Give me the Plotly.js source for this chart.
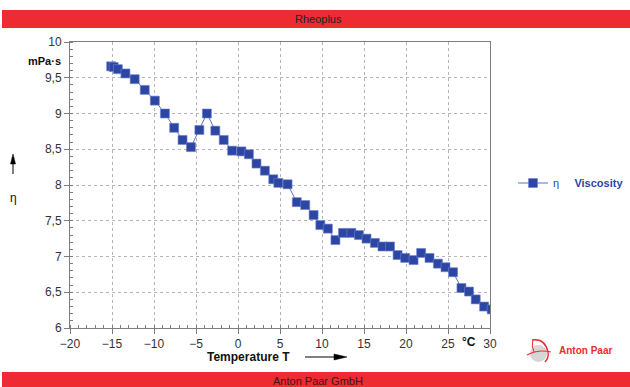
<!DOCTYPE html>
<html>
<head>
<meta charset="utf-8">
<script src="https://cdn.plot.ly/plotly-3.0.1.min.js"></script>
<style>
  html, body { margin: 0; padding: 0; background: #fff; }
  #chart { width: 630px; height: 387px; }
</style>
</head>
<body>
<div id="chart"></div>
<script>
// Temperature sweep (°C) and measured dynamic viscosity (mPa·s)
const temperature = [-15.1, -14.8, -14.3, -13.4, -12.3, -11.1, -9.9, -8.7, -7.6, -6.6,
  -5.6, -4.6, -3.7, -2.7, -1.7, -0.7, 0.4, 1.3, 2.2, 3.2,
  4.2, 4.8, 5.9, 7.0, 8.0, 9.0, 9.8, 10.7, 11.6, 12.5,
  13.5, 14.4, 15.3, 16.3, 17.2, 18.1, 19.0, 19.9, 20.9, 21.8,
  22.8, 23.8, 24.7, 25.6, 26.6, 27.5, 28.3, 29.3, 30.2];
const viscosity = [9.66, 9.65, 9.62, 9.56, 9.48, 9.33, 9.18, 9.00, 8.80, 8.63,
  8.53, 8.77, 9.00, 8.76, 8.63, 8.48, 8.47, 8.43, 8.30, 8.20,
  8.08, 8.03, 8.01, 7.76, 7.72, 7.58, 7.44, 7.39, 7.23, 7.33,
  7.33, 7.30, 7.25, 7.19, 7.14, 7.14, 7.02, 6.98, 6.95, 7.05,
  6.98, 6.90, 6.85, 6.78, 6.56, 6.51, 6.40, 6.30, 6.26];

const xTicks = [-20, -15, -10, -5, 0, 5, 10, 15, 20, 25, 30];
const yTicks = [6, 6.5, 7, 7.5, 8, 8.5, 9, 9.5, 10];

const seriesName = 'η\u00a0\u00a0\u00a0\u00a0\u00a0<b>Viscosity</b>';
const chartTitle = 'Rheoplus';
const footerText = 'Anton Paar GmbH';
const brandText = 'Anton Paar';

// plot area in pixels: left 70, right 490, top 42, bottom 328
const L = 70, R = 490, T = 42, B = 328;
const px = v => (v - L) / (R - L);
const py = v => (B - v) / (B - T);

const RED = '#ee2b31';
const BLUE = '#2d46a4';
const FONT = 'Liberation Sans, Arial, sans-serif';

const trace = {
  x: temperature,
  y: viscosity,
  type: 'scatter',
  mode: 'lines+markers',
  name: seriesName,
  line: { color: '#5c72c2', width: 1 },
  marker: { symbol: 'square', size: 9, color: BLUE, line: { color: '#6f83cc', width: 0.6 } },
  hoverinfo: 'skip'
};

const shapes = [
  // header and footer bands
  { type: 'rect', xref: 'paper', yref: 'paper', x0: px(2), x1: px(632), y0: py(28), y1: py(10),
    fillcolor: RED, line: { width: 0 }, layer: 'below' },
  { type: 'rect', xref: 'paper', yref: 'paper', x0: px(2), x1: px(632), y0: py(392), y1: py(372),
    fillcolor: RED, line: { width: 0 }, layer: 'below' },
  // y-axis arrow
  { type: 'line', xref: 'paper', yref: 'paper', x0: px(13), x1: px(13), y0: py(174), y1: py(162),
    line: { color: '#000', width: 1 } },
  { type: 'path', xref: 'paper', yref: 'paper',
    path: `M ${px(10.5)} ${py(164)} L ${px(13)} ${py(154)} L ${px(15.5)} ${py(164)} Z`,
    fillcolor: '#000', line: { color: '#000', width: 0.5 } },
  // x-axis arrow
  { type: 'line', xref: 'paper', yref: 'paper', x0: px(305), x1: px(336), y0: py(357), y1: py(357),
    line: { color: '#000', width: 1 } },
  { type: 'path', xref: 'paper', yref: 'paper',
    path: `M ${px(334)} ${py(354)} L ${px(347)} ${py(357)} L ${px(334)} ${py(360)} Z`,
    fillcolor: '#000', line: { color: '#000', width: 0.5 } },
  // brand mark: grey sphere with red orbit strokes
  { type: 'circle', xref: 'paper', yref: 'paper', x0: px(530), x1: px(547), y0: py(362), y1: py(345),
    fillcolor: '#d6d6d6', line: { width: 0 } },
  { type: 'path', xref: 'paper', yref: 'paper',
    path: `M ${px(532)} ${py(340)} Q ${px(545)} ${py(338)} ${px(548)} ${py(352)} Q ${px(549)} ${py(358)} ${px(545)} ${py(362)}`,
    line: { color: RED, width: 1.4 } },
  { type: 'path', xref: 'paper', yref: 'paper',
    path: `M ${px(527)} ${py(355)} Q ${px(538)} ${py(349)} ${px(551)} ${py(352)}`,
    line: { color: RED, width: 1.2 } },
  { type: 'path', xref: 'paper', yref: 'paper',
    path: `M ${px(533)} ${py(340)} Q ${px(531)} ${py(346)} ${px(534)} ${py(352)}`,
    line: { color: RED, width: 1 } }
];

function label(text, x, y, size, color, xanchor) {
  return { text: text, xref: 'paper', yref: 'paper', x: px(x), y: py(y),
    xanchor: xanchor || 'center', yanchor: 'middle', showarrow: false,
    font: { family: FONT, size: size, color: color } };
}

const annotations = [
  label(chartTitle, 318, 19, 11, '#222'),
  label(footerText, 318, 381, 11, '#3a1616'),
  label('<b>mPa·s</b>', 63, 61, 11, '#111', 'right'),
  label('η', 13, 198, 12, '#111'),
  label('<b>Temperature T</b>', 248, 357, 12, '#111'),
  label('<b>°C</b>', 469, 342, 12, '#111'),
  label('<b>' + brandText + '</b>', 557, 350, 10, RED, 'left')
];

const axisCommon = {
  showline: true, mirror: true, linecolor: '#7d7d7d', linewidth: 1,
  showgrid: true, gridcolor: '#b5b5b5', griddash: 'dot', gridwidth: 1,
  zeroline: false,
  ticks: 'outside', ticklen: 5, tickcolor: '#7d7d7d',
  tickfont: { family: FONT, size: 12, color: '#333' },
  fixedrange: true
};

const layout = {
  width: 630, height: 387,
  margin: { l: L, r: 630 - R, t: T, b: 387 - B, pad: 0, autoexpand: false },
  paper_bgcolor: '#fff', plot_bgcolor: '#fff',
  separators: ',.',
  showlegend: true,
  legend: {
    x: px(513), y: py(183), xanchor: 'left', yanchor: 'middle',
    font: { family: FONT, size: 11, color: BLUE },
    bgcolor: 'rgba(0,0,0,0)', itemwidth: 30
  },
  xaxis: Object.assign({}, axisCommon, {
    range: [-20, 30], tickmode: 'array', tickvals: xTicks,
    minor: { dtick: 1, ticks: 'inside', ticklen: 3, tickcolor: '#7d7d7d', showgrid: false }
  }),
  yaxis: Object.assign({}, axisCommon, {
    range: [6, 10], tickmode: 'array', tickvals: yTicks,
    minor: { dtick: 0.1, ticks: 'inside', ticklen: 3, tickcolor: '#7d7d7d', showgrid: false }
  }),
  shapes: shapes,
  annotations: annotations
};

Plotly.newPlot('chart', [trace], layout, { displayModeBar: false, staticPlot: true });
</script>
</body>
</html>
